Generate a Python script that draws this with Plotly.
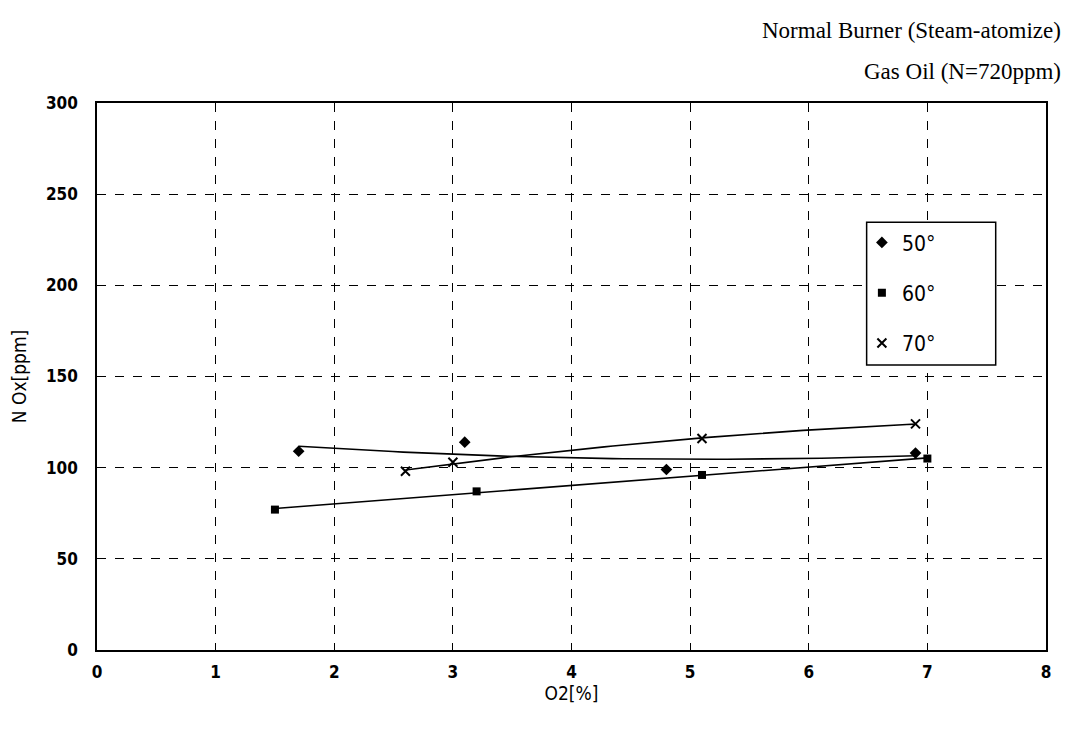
import numpy as np
import plotly.graph_objects as go

# Measured NOx against flue-gas O2 for three atomizer angles
o2_50 = [1.7, 3.1, 4.8, 6.9]
nox_50 = [109, 114, 99, 108]

o2_60 = [1.5, 3.2, 5.1, 7.0]
nox_60 = [77, 87, 96, 105]

o2_70 = [2.6, 3.0, 5.1, 6.9]
nox_70 = [98, 103, 116, 124]

series = [
    ("50°", o2_50, nox_50, "diamond", 9, 2),
    ("60°", o2_60, nox_60, "square", 8, 1),
    ("70°", o2_70, nox_70, "x-thin", 9, 2),
]

fig = go.Figure()

for name, xs, ys, symbol, size, deg in series:
    # trend line fitted through the measured points
    coef = np.polyfit(xs, ys, deg)
    xf = np.linspace(min(xs), max(xs), 60)
    fig.add_trace(go.Scatter(
        x=xf, y=np.polyval(coef, xf), mode="lines",
        line=dict(color="black", width=1.6),
        showlegend=False, hoverinfo="skip",
    ))
    fig.add_trace(go.Scatter(
        x=xs, y=ys, mode="markers", name=name, legendgroup=name,
        marker=dict(symbol=symbol, size=size, color="black",
                    line=dict(color="black", width=2 if symbol == "x-thin" else 0)),
    ))

narrow = "DejaVu Sans Condensed"
tick_font = dict(family=narrow, size=17, color="black", weight="bold")
title_font = dict(family=narrow, size=19, color="black")

fig.update_layout(
    width=1066, height=730,
    margin=dict(l=97, r=20, t=103, b=80),
    paper_bgcolor="white", plot_bgcolor="white",
    font=dict(family=narrow, color="black"),
    xaxis=dict(
        range=[0, 8], dtick=1, showgrid=True,
        gridcolor="black", griddash="dash", gridwidth=1,
        showline=True, linecolor="black", linewidth=1.5, mirror=True,
        zeroline=False, ticks="", tickfont=tick_font, ticklabelstandoff=6,
        title=dict(text="O2[%]", font=title_font, standoff=4),
    ),
    yaxis=dict(
        range=[0, 300], dtick=50, showgrid=True,
        gridcolor="black", griddash="dash", gridwidth=1,
        showline=True, linecolor="black", linewidth=1.5, mirror=True,
        zeroline=False, ticks="", tickfont=tick_font, ticklabelstandoff=14,
        title=dict(text="N Ox[ppm]", font=title_font, standoff=14),
    ),
    legend=dict(
        x=0.806, y=0.782, xanchor="left", yanchor="top",
        bgcolor="rgba(0,0,0,0)", borderwidth=0,
        font=dict(family=narrow, size=21, color="black"),
        tracegroupgap=20, itemwidth=30,
    ),
    # framed white box behind the legend entries, covering the grid
    shapes=[dict(
        type="rect", xref="paper", yref="paper",
        x0=0.811, x1=0.947, y0=0.521, y1=0.782,
        line=dict(color="black", width=1.5), fillcolor="white", layer="above",
    )],
    annotations=[
        dict(text="Normal Burner (Steam-atomize)", xref="paper", yref="paper",
             x=1.018, y=1.133, xanchor="right", yanchor="middle", showarrow=False,
             font=dict(family="Liberation Serif", size=23, color="black")),
        dict(text="Gas Oil (N=720ppm)", xref="paper", yref="paper",
             x=1.018, y=1.057, xanchor="right", yanchor="middle", showarrow=False,
             font=dict(family="Liberation Serif", size=23, color="black")),
    ],
)

fig.write_html("out.html")
